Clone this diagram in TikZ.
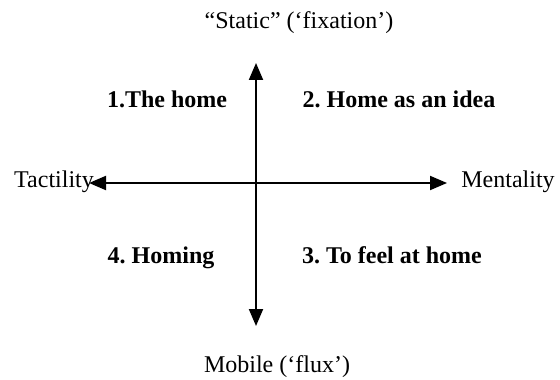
\documentclass[tikz,border=0pt]{standalone}
\usepackage{fontspec}
\setmainfont{Liberation Serif}
\usetikzlibrary{arrows.meta}
\frenchspacing
\begin{document}
\begin{tikzpicture}[x=0.5pt,y=-0.5pt,
  axis/.style={line width=1pt,{Triangle[length=8.5pt,width=7pt]}-{Triangle[length=8.5pt,width=7pt]}},
  lbl/.style={font=\fontsize{12}{14}\selectfont,inner sep=0pt,anchor=base},
  qlbl/.style={font=\fontsize{12}{14}\selectfont\bfseries,inner sep=0pt,anchor=base}]
\useasboundingbox (0,0) rectangle (560,379);
\coordinate (top) at (256,63);
\coordinate (bot) at (256,326);
\coordinate (lft) at (89,183);
\coordinate (rgt) at (447,183);
\draw[axis] (bot) -- (top);
\draw[axis] (lft) -- (rgt);
\node[lbl] (static) at (299,29) {“Static” (‘fixation’)};
\node[lbl] (mobile) at (277,372) {Mobile (‘flux’)};
\node[lbl] (tact) at (54,187) {Tactility};
\node[lbl] (ment) at (508,187) {Mentality};
\node[qlbl] (q1) at (167,108) {1.The home};
\node[qlbl] (q2) at (399,108) {2. Home as an idea};
\node[qlbl] (q4) at (161,263) {4. Homing};
\node[qlbl] (q3) at (392,263) {3. To feel at home};
\end{tikzpicture}
\end{document}
